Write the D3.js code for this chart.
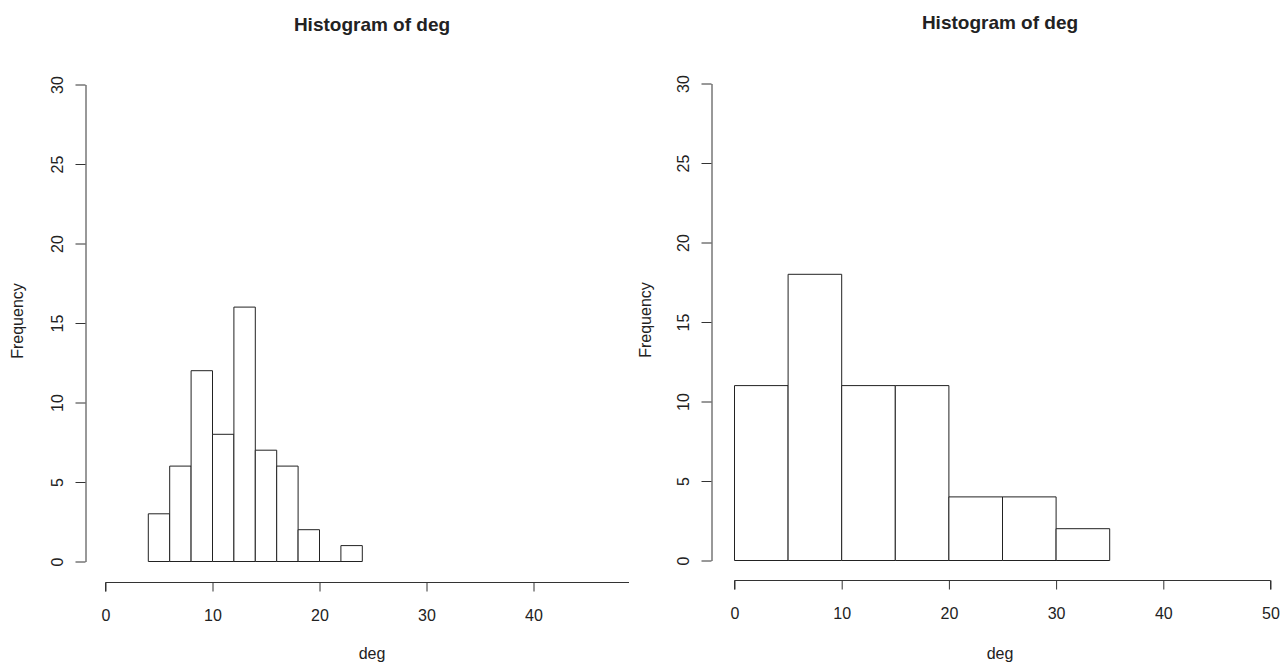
<!DOCTYPE html>
<html>
<head>
<meta charset="utf-8">
<script src="https://cdn.jsdelivr.net/npm/d3@7"></script>
<style>
    body { margin: 0; background: #fff; }
    svg text { font-family: "Liberation Sans", Arial, sans-serif; fill: #222; }
</style>
</head>
<body>
<div id="chart"></div>
<script>
// left histogram: breaks of 2
const leftBreaks = [4, 6, 8, 10, 12, 14, 16, 18, 20, 22, 24];
const leftCounts = [3, 6, 12, 8, 16, 7, 6, 2, 0, 1];
// right histogram: breaks of 5
const rightBreaks = [0, 5, 10, 15, 20, 25, 30, 35];
const rightCounts = [11, 18, 11, 11, 4, 4, 2];

const xTicks = [0, 10, 20, 30, 40, 50];
const yTicks = [0, 5, 10, 15, 20, 25, 30];

const svg = d3.select("#chart")
    .append("svg")
    .attr("width", 1285)
    .attr("height", 669);

svg.append("defs").append("clipPath")
    .attr("id", "leftClip")
    .append("rect")
    .attr("x", 0).attr("y", 0)
    .attr("width", 629).attr("height", 669);

function drawHistogram(g, breaks, counts, x, y, xAxisY, yAxisX) {
    let bins = counts.map(function(c, i) {
        return { x0: breaks[i], x1: breaks[i + 1], n: c };
    });

    // paths instead of rects so an empty bin still shows its base line
    g.selectAll("path.bar")
        .data(bins)
        .enter()
        .append("path")
        .attr("class", "bar")
        .attr("d", function(d) {
            let l = x(d.x0) + 0.5, r = x(d.x1) + 0.5;
            let b = y(0) + 0.5, t = y(d.n) + 0.5;
            return `M${l},${b}V${t}H${r}V${b}Z`;
        })
        .style("fill", "#fff")
        .style("stroke", "#222")
        .style("stroke-width", "1px");

    let xAxis = d3.axisBottom(x)
        .tickValues(xTicks)
        .tickSize(9)
        .tickSizeOuter(0)
        .tickPadding(18);
    let gx = g.append("g")
        .attr("transform", `translate(0.5, ${xAxisY + 0.5})`)
        .call(xAxis);
    gx.select(".domain").attr("d", `M${x(0)},9V0H${x(50)}V9`);

    let yAxis = d3.axisLeft(y)
        .tickValues(yTicks)
        .tickSize(10)
        .tickSizeOuter(0);
    let gy = g.append("g")
        .attr("transform", `translate(${yAxisX + 0.5}, 0.5)`)
        .call(yAxis);
    gy.selectAll(".tick text")
        .attr("x", 0)
        .attr("y", -23)
        .attr("dy", 0)
        .attr("text-anchor", "middle")
        .attr("transform", "rotate(-90)");

    [gx, gy].forEach(function(a) {
        a.selectAll("path, line").style("stroke", "#333");
        a.selectAll("text")
            .style("font-size", "16px")
            .style("fill", "#222")
            .attr("font-family", null);
    });
}

// left panel
let left = svg.append("g").attr("clip-path", "url(#leftClip)");
let xL = d3.scaleLinear().domain([0, 50]).range([105, 640]);
let yL = d3.scaleLinear().domain([0, 30]).range([561, 84]);
drawHistogram(left, leftBreaks, leftCounts, xL, yL, 582, 85);

// right panel
let right = svg.append("g");
let xR = d3.scaleLinear().domain([0, 50]).range([734, 1270]);
let yR = d3.scaleLinear().domain([0, 30]).range([560, 83]);
drawHistogram(right, rightBreaks, rightCounts, xR, yR, 580, 711);

// titles and axis labels
[
    { cx: 372, ty: 31, fx: 23, fy: 321 },
    { cx: 1000, ty: 29, fx: 651, fy: 320 }
].forEach(function(p) {
    svg.append("text")
        .attr("x", p.cx)
        .attr("y", p.ty)
        .attr("text-anchor", "middle")
        .style("font-size", "19px")
        .style("font-weight", "bold")
        .text("Histogram of deg");
    svg.append("text")
        .attr("x", p.cx)
        .attr("y", 659)
        .attr("text-anchor", "middle")
        .style("font-size", "16px")
        .text("deg");
    svg.append("text")
        .attr("transform", `translate(${p.fx}, ${p.fy}) rotate(-90)`)
        .attr("text-anchor", "middle")
        .style("font-size", "16px")
        .text("Frequency");
});
</script>
</body>
</html>
